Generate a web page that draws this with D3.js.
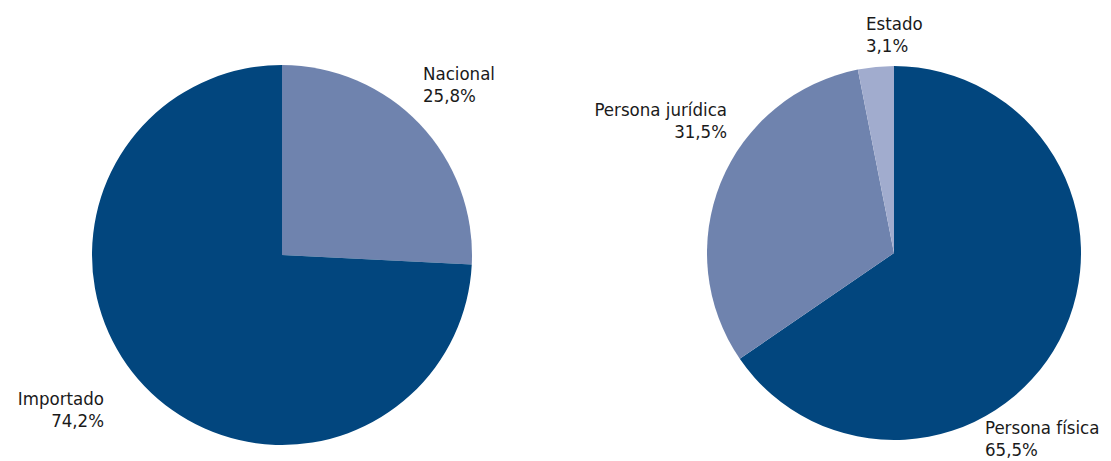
<!DOCTYPE html>
<html>
    <head>
        <title>Pies</title>
        <script src="https://d3js.org/d3.v7.min.js" charset="utf-8"></script>
        <style>
            body { margin: 0; background: #fff; }
            text { font-family: "DejaVu Sans Condensed", "Noto Sans", sans-serif; font-size: 18.5px; fill: #1a1a1a; }
        </style>
    </head>
    <body>
        <script>
            // origen del producto
            var origenLabels = ["Nacional", "Importado"];
            var origenValues = [25.8, 74.2];
            // tipo de comprador
            var compradorLabels = ["Persona física", "Persona jurídica", "Estado"];
            var compradorValues = [65.5, 31.5, 3.1];

            var colors = ["#02467e", "#6f83ae", "#a1acce"];

            var svg = d3.select("body").append("svg")
                .attr("width", 1111)
                .attr("height", 461);

            function drawPie(cx, cy, r, labels, values, fills, labelPos) {
                var data = labels.map((l, i) => ({label: l, value: values[i], fill: fills[i], pos: labelPos[i]}));
                var pie = d3.pie().sort(null).value(d => d.value);
                var arc = d3.arc().innerRadius(0).outerRadius(r);
                var g = svg.append("g").attr("transform", `translate(${cx},${cy})`);
                g.selectAll("path")
                    .data(pie(data))
                    .join("path")
                    .attr("d", arc)
                    .attr("fill", d => d.data.fill);

                // labels: name + percentage, placed relative to the pie centre
                var lab = g.selectAll("text.lab")
                    .data(data)
                    .join("text")
                    .attr("class", "lab")
                    .attr("text-anchor", d => d.pos[2]);
                lab.append("tspan")
                    .attr("x", d => d.pos[0])
                    .attr("y", d => d.pos[1])
                    .text(d => d.label);
                lab.append("tspan")
                    .attr("x", d => d.pos[0])
                    .attr("dy", 22)
                    .text(d => d3.format(".1f")(d.value).replace(".", ",") + "%");
            }

            drawPie(282, 255, 190, origenLabels, origenValues, [colors[1], colors[0]],
                [[141, -175, "start"], [-178, 150, "end"]]);
            drawPie(894, 253, 187, compradorLabels, compradorValues, [colors[0], colors[1], colors[2]],
                [[91, 181, "start"], [-167, -137, "end"], [-28, -223, "start"]]);
        </script>
    </body>
</html>
